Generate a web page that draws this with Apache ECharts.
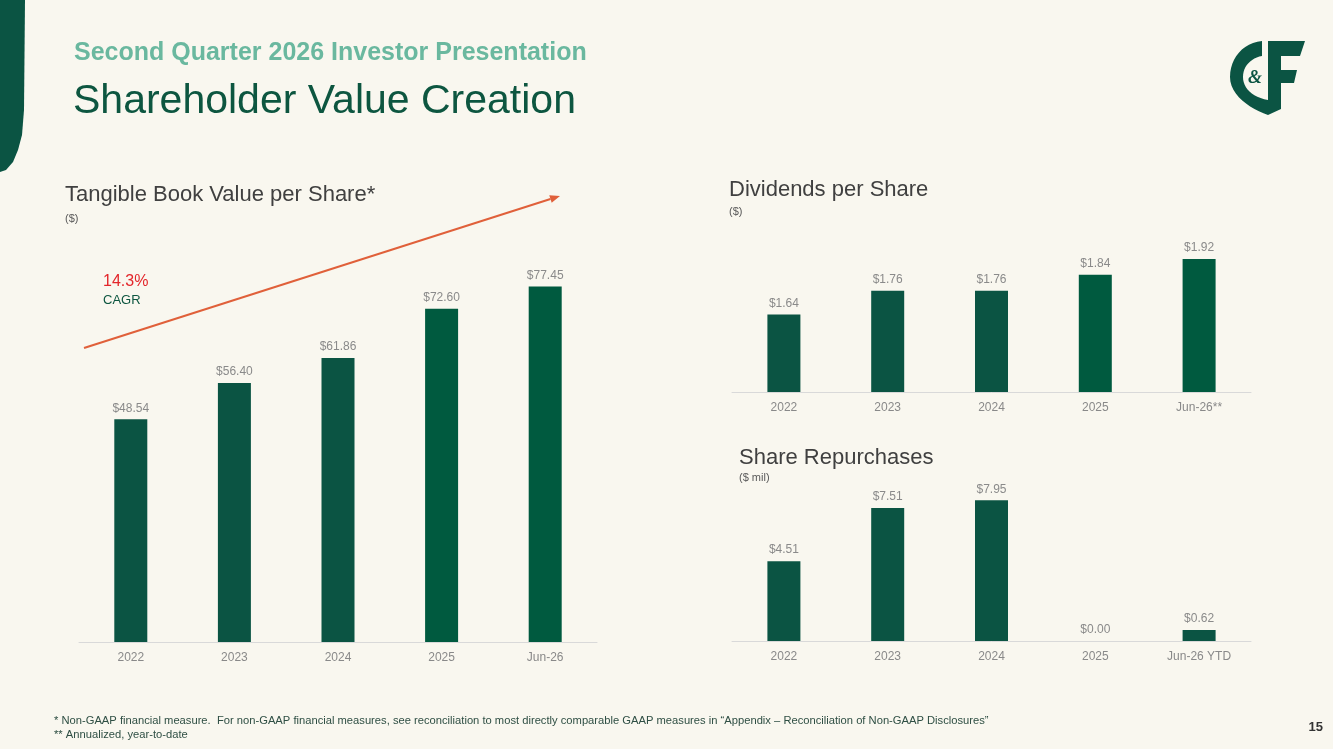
<!DOCTYPE html>
<html>
<head>
<meta charset="utf-8">
<script src="https://cdn.jsdelivr.net/npm/echarts@6/dist/echarts.min.js"></script>
<style>
  html, body { margin: 0; padding: 0; background: #f9f7ef; }
  #chart { width: 1333px; height: 749px; }
</style>
</head>
<body>
<div id="chart"></div>
<script>
// datos
const tbvCategorias = ['2022', '2023', '2024', '2025', 'Jun-26'];
const tbvValores = [48.54, 56.40, 61.86, 72.60, 77.45];

const divCategorias = ['2022', '2023', '2024', '2025', 'Jun-26**'];
const divValores = [1.64, 1.76, 1.76, 1.84, 1.92];

const recompraCategorias = ['2022', '2023', '2024', '2025', 'Jun-26 YTD'];
const recompraValores = [4.51, 7.51, 7.95, 0.00, 0.62];

const verdeOscuro = '#0b5443';
const verdeVivo = '#005a3f';
const fuente = "'Liberation Sans', Arial, sans-serif";

const contenedor = document.getElementById('chart');
const miGrafico = echarts.init(contenedor, null, { renderer: 'canvas' });

function ejeX(idx, cats) {
  return {
    type: 'category', gridIndex: idx, data: cats,
    axisLine: { lineStyle: { color: '#d9d9d9', width: 1 } },
    axisTick: { show: false },
    axisLabel: { color: '#898989', fontSize: 12, fontFamily: fuente, margin: 10 }
  };
}
function ejeY(idx, min, max) {
  return {
    type: 'value', gridIndex: idx, min: min, max: max,
    show: false, splitLine: { show: false }
  };
}
function serie(idx, valores, colorFn) {
  return {
    type: 'bar', xAxisIndex: idx, yAxisIndex: idx, data: valores,
    barWidth: 33,
    itemStyle: { color: colorFn },
    label: {
      show: true, position: 'top', distance: 5,
      color: '#8a8a8a', fontSize: 12, fontFamily: fuente,
      formatter: p => '$' + p.value.toFixed(2)
    }
  };
}

// curva bezier muestreada para el logo
function bezier(p0, p1, p2, p3, n) {
  const pts = [];
  for (let i = 0; i <= n; i++) {
    const t = i / n, u = 1 - t;
    pts.push([
      u * u * u * p0[0] + 3 * u * u * t * p1[0] + 3 * u * t * t * p2[0] + t * t * t * p3[0],
      u * u * u * p0[1] + 3 * u * u * t * p1[1] + 3 * u * t * t * p2[1] + t * t * t * p3[1]
    ]);
  }
  return pts;
}
const logoC = [].concat(
  bezier([1262, 41], [1243, 43], [1230, 58], [1230, 77], 12),
  bezier([1230, 77], [1230, 95], [1250, 109], [1268, 115], 12),
  [[1268, 100]],
  bezier([1268, 100], [1252, 97], [1243, 88], [1243, 77], 12),
  bezier([1243, 77], [1243, 66], [1251, 58], [1262, 56], 12)
);
const logoF = [[1268, 41], [1305, 41], [1300, 56], [1281, 56], [1281, 70], [1297, 70], [1294, 83], [1281, 83], [1281, 109], [1268, 115]];
const franja = [[0, 0], [25, 0], [24, 110], [22, 135], [18, 150], [13, 162], [6, 170], [0, 172]];

// flecha CAGR
const x1 = 84, y1 = 348, x2 = 560, y2 = 196;
const len = Math.hypot(x2 - x1, y2 - y1);
const dx = (x2 - x1) / len, dy = (y2 - y1) / len;
const bx = x2 - 10 * dx, by = y2 - 10 * dy;
const punta = [[x2, y2], [bx - 4 * dy, by + 4 * dx], [bx + 4 * dy, by - 4 * dx]];

function texto(x, y, t, font, fill, align) {
  return { type: 'text', x: x, y: y, style: { text: t, font: font, fill: fill, align: align || 'left', verticalAlign: 'middle' } };
}

const opciones = {
  backgroundColor: '#f9f7ef',
  animation: false,
  grid: [
    { left: 79, top: 183, width: 518, height: 459 },
    { left: 732, top: 243, width: 519, height: 149 },
    { left: 732, top: 464, width: 519, height: 177 }
  ],
  xAxis: [ejeX(0, tbvCategorias), ejeX(1, divCategorias), ejeX(2, recompraCategorias)],
  yAxis: [ejeY(0, 0, 100), ejeY(1, 1.25, 2.0), ejeY(2, 0, 10)],
  series: [
    serie(0, tbvValores, p => p.dataIndex >= 3 ? verdeVivo : verdeOscuro),
    serie(1, divValores, p => p.dataIndex >= 3 ? verdeVivo : verdeOscuro),
    serie(2, recompraValores, verdeOscuro)
  ],
  graphic: [
    { type: 'polygon', shape: { points: franja }, style: { fill: verdeOscuro } },
    texto(74, 53, 'Second Quarter 2026 Investor Presentation', 'bold 25px ' + fuente, '#6ab89f'),
    texto(73, 102, 'Shareholder Value Creation', '41px ' + fuente, '#0d5640'),
    // logo
    { type: 'polygon', shape: { points: logoC }, style: { fill: verdeOscuro } },
    { type: 'polygon', shape: { points: logoF }, style: { fill: verdeOscuro } },
    texto(1255, 78, '&', 'italic bold 18px "Liberation Serif", serif', verdeOscuro, 'center'),
    // titulos de graficos
    texto(65, 195, 'Tangible Book Value per Share*', '22px ' + fuente, '#404040'),
    texto(65, 219, '($)', '11px ' + fuente, '#595959'),
    texto(729, 190, 'Dividends per Share', '22px ' + fuente, '#404040'),
    texto(729, 212, '($)', '11px ' + fuente, '#595959'),
    texto(739, 458, 'Share Repurchases', '22px ' + fuente, '#404040'),
    texto(739, 478, '($ mil)', '11px ' + fuente, '#595959'),
    // CAGR
    texto(103, 282, '14.3%', '16px ' + fuente, '#e3262b'),
    texto(103, 300, 'CAGR', '13px ' + fuente, '#0d5640'),
    { type: 'line', shape: { x1: x1, y1: y1, x2: bx, y2: by }, style: { stroke: '#e0603a', lineWidth: 2 } },
    { type: 'polygon', shape: { points: punta }, style: { fill: '#e0603a' } },
    // notas
    texto(54, 721, '* Non-GAAP financial measure.  For non-GAAP financial measures, see reconciliation to most directly comparable GAAP measures in \u201cAppendix \u2013 Reconciliation of Non-GAAP Disclosures\u201d', '11.2px ' + fuente, '#2f4f44'),
    texto(54, 735, '** Annualized, year-to-date', '11.2px ' + fuente, '#2f4f44'),
    texto(1323, 727, '15', 'bold 13px ' + fuente, '#333333', 'right')
  ]
};

miGrafico.setOption(opciones);
</script>
</body>
</html>
